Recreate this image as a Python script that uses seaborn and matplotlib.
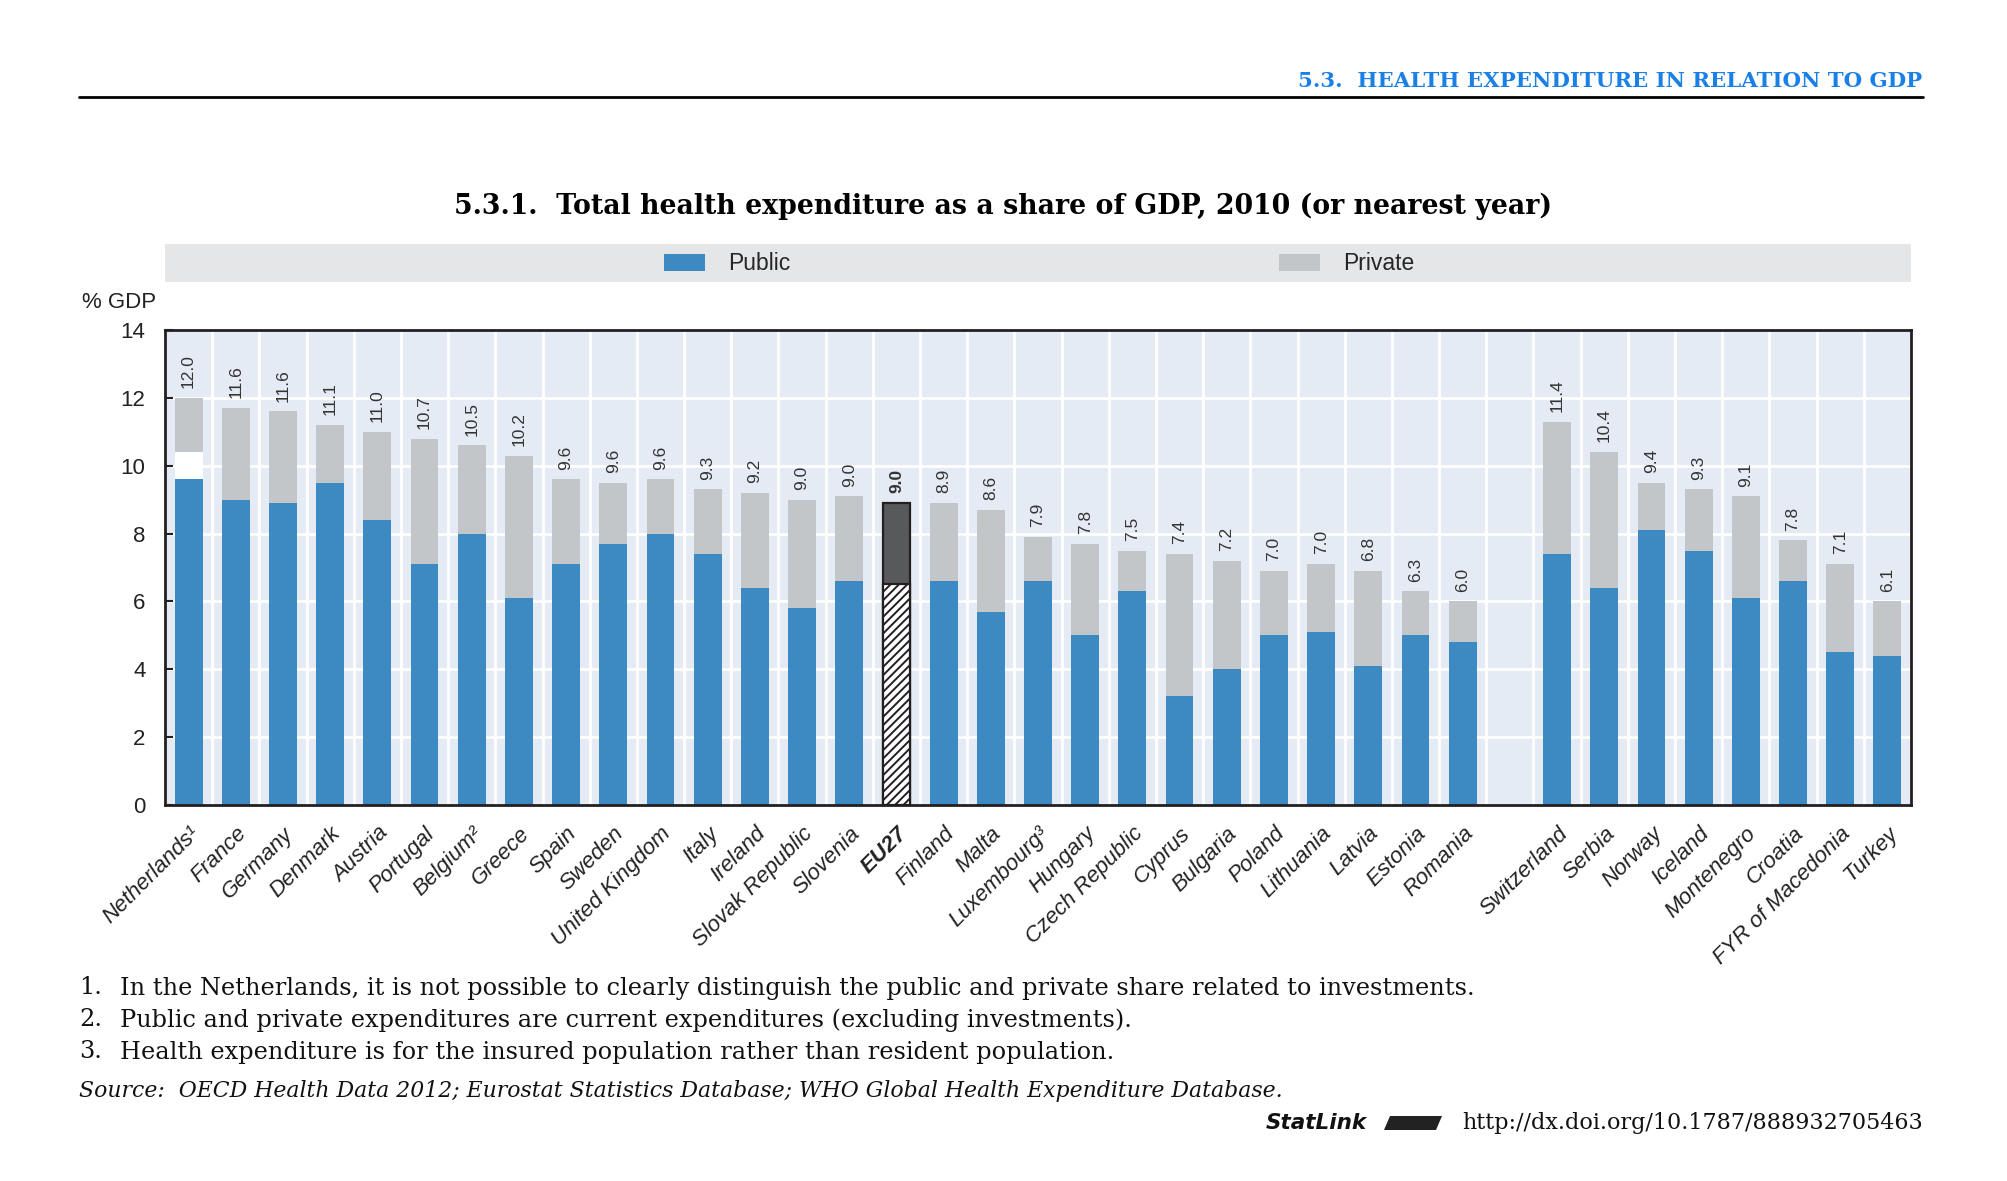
import matplotlib
matplotlib.use("Agg")
import matplotlib.pyplot as plt
import matplotlib.font_manager as fm
from matplotlib.patches import Patch, Rectangle, Polygon
from matplotlib.lines import Line2D
from matplotlib.transforms import ScaledTranslation
import seaborn as sns
import numpy as np
import pandas as pd

# data (% of GDP)
countries = ["Netherlands¹", "France", "Germany", "Denmark", "Austria", "Portugal",
             "Belgium²", "Greece", "Spain", "Sweden", "United Kingdom", "Italy",
             "Ireland", "Slovak Republic", "Slovenia", "EU27", "Finland", "Malta",
             "Luxembourg³", "Hungary", "Czech Republic", "Cyprus", "Bulgaria", "Poland",
             "Lithuania", "Latvia", "Estonia", "Romania",
             "Switzerland", "Serbia", "Norway", "Iceland", "Montenegro", "Croatia",
             "FYR of Macedonia", "Turkey"]
public = [9.6, 9.0, 8.9, 9.5, 8.4, 7.1, 8.0, 6.1, 7.1, 7.7, 8.0, 7.4,
          6.4, 5.8, 6.6, 6.5, 6.6, 5.7, 6.6, 5.0, 6.3, 3.2, 4.0, 5.0,
          5.1, 4.1, 5.0, 4.8,
          7.4, 6.4, 8.1, 7.5, 6.1, 6.6, 4.5, 4.4]
# Netherlands: part that cannot be split between public and private
unallocated = [0.8, 0, 0, 0, 0, 0, 0, 0, 0, 0, 0, 0,
               0, 0, 0, 0, 0, 0, 0, 0, 0, 0, 0, 0,
               0, 0, 0, 0,
               0, 0, 0, 0, 0, 0, 0, 0]
private = [1.6, 2.7, 2.7, 1.7, 2.6, 3.7, 2.6, 4.2, 2.5, 1.8, 1.6, 1.9,
           2.8, 3.2, 2.5, 2.4, 2.3, 3.0, 1.3, 2.7, 1.2, 4.2, 3.2, 1.9,
           2.0, 2.8, 1.3, 1.2,
           3.9, 4.0, 1.4, 1.8, 3.0, 1.2, 2.6, 1.6]
total_labels = ["12.0", "11.6", "11.6", "11.1", "11.0", "10.7", "10.5", "10.2", "9.6",
                "9.6", "9.6", "9.3", "9.2", "9.0", "9.0", "9.0", "8.9", "8.6", "7.9",
                "7.8", "7.5", "7.4", "7.2", "7.0", "7.0", "6.8", "6.3", "6.0",
                "11.4", "10.4", "9.4", "9.3", "9.1", "7.8", "7.1", "6.1"]
n_eu = 28  # first group (EU members + EU27), then a gap slot

BLUE = "#3d89c2"
GREY = "#c3c6c9"
BG = "#e5ebf5"
DARK = "#231f20"
HEAD_BLUE = "#1a80e6"

sns.set_theme(style="white")
names = {f.name for f in fm.fontManager.ttflist}
sans = "Liberation Sans Narrow" if "Liberation Sans Narrow" in names else "Liberation Sans"
serif = "DejaVu Serif"
plt.rcParams["font.family"] = [sans, "DejaVu Sans"]
plt.rcParams["hatch.linewidth"] = 1.4

df = pd.DataFrame({"country": countries, "public": public,
                   "unalloc": unallocated, "private": private})
df["mid"] = df["public"] + df["unalloc"]
df["top"] = df["mid"] + df["private"]

order = countries[:n_eu] + [" "] + countries[n_eu:]

W, H = 2007, 1181
fig = plt.figure(figsize=(W / 100, H / 100), dpi=100)
ax = fig.add_axes([165 / W, 1 - 805 / H, 1746 / W, 475 / H])
ax.set_facecolor(BG)

bw = 0.59
sns.barplot(data=df, x="country", y="top", order=order, color=GREY, width=bw,
            saturation=1, errorbar=None, linewidth=0, ax=ax)
sns.barplot(data=df[df["unalloc"] > 0], x="country", y="mid", order=order, color="white",
            width=bw, saturation=1, errorbar=None, linewidth=0, ax=ax)
sns.barplot(data=df, x="country", y="public", order=order, color=BLUE, width=bw,
            saturation=1, errorbar=None, linewidth=0, ax=ax)

# EU27 average bar styled differently
eu_pos = order.index("EU27")
for p in ax.patches:
    cx = p.get_x() + p.get_width() / 2
    if abs(cx - eu_pos) < 0.01:
        if p.get_height() > 8:
            p.set_facecolor("#58595b")
        else:
            p.set_facecolor("white")
            p.set_hatch("////")
        p.set_edgecolor(DARK)
        p.set_linewidth(1.6)

# value labels above the bars
for _, row in df.iterrows():
    i = order.index(row["country"])
    lab = total_labels[countries.index(row["country"])]
    ax.annotate(lab, (i, row["top"]), xytext=(0, 7), textcoords="offset points",
                rotation=90, ha="center", va="bottom", fontsize=12.5, color="#333333",
                fontweight="bold" if row["country"] == "EU27" else "normal")

ax.set_xlim(-0.5, len(order) - 0.5)
ax.set_ylim(0, 14)
ax.set_yticks(np.arange(0, 15, 2))
ax.set_yticklabels([str(v) for v in range(0, 15, 2)], fontsize=16, color="#222222")
ax.set_xticks(np.arange(len(order)))
ax.set_xticklabels(order, rotation=45, ha="right", rotation_mode="anchor",
                   fontsize=16, style="italic", color="#222222")
offset = ScaledTranslation(7 / 72, 0, fig.dpi_scale_trans)
for lab in ax.get_xticklabels():
    lab.set_transform(lab.get_transform() + offset)
    if lab.get_text() == "EU27":
        lab.set_fontweight("bold")
ax.set_xticks(np.arange(-0.5, len(order), 1), minor=True)
ax.tick_params(axis="x", which="major", length=0, pad=13)
ax.tick_params(axis="x", which="minor", direction="in", length=6, width=1.5, color=DARK)
ax.tick_params(axis="y", which="major", direction="in", length=6, width=1.5, color=DARK,
               pad=14, left=True)
ax.grid(which="minor", axis="x", color="white", linewidth=2)
ax.grid(which="major", axis="y", color="white", linewidth=2)
ax.set_axisbelow(True)
ax.set_xlabel("")
ax.set_ylabel("")
for s in ax.spines.values():
    s.set_visible(True)
    s.set_color(DARK)
    s.set_linewidth(2)

fig.text(156 / W, 1 - 302 / H, "% GDP", ha="right", va="center", fontsize=16,
         color="#222222")

# legend band
fig.patches.append(Rectangle((165 / W, 1 - 282 / H), 1746 / W, 38 / H,
                             transform=fig.transFigure, facecolor="#e5e6e8",
                             edgecolor="none", zorder=0))
handles = [Patch(facecolor=BLUE, edgecolor="none", label="Public"),
           Patch(facecolor=GREY, edgecolor="none", label="Private")]
fig.legend(handles=handles, loc="center", bbox_to_anchor=(1039 / W, 1 - 264 / H),
           ncol=2, frameon=False, fontsize=16.5, handlelength=1.8, handleheight=0.7,
           columnspacing=21.3, handletextpad=1.0)

# header and title
fig.text(1922 / W, 1 - 81 / H, "5.3.  HEALTH EXPENDITURE IN RELATION TO GDP",
         ha="right", va="center", fontsize=15.3, fontweight="bold", color=HEAD_BLUE,
         family=serif)
fig.add_artist(Line2D([79 / W, 1923 / W], [1 - 97 / H, 1 - 97 / H], color="black",
                      linewidth=2))
fig.text(1003 / W, 1 - 206 / H,
         "5.3.1.  Total health expenditure as a share of GDP, 2010 (or nearest year)",
         ha="center", va="center", fontsize=19.3, fontweight="bold", color="black",
         family=serif)

# footnotes
notes = ["In the Netherlands, it is not possible to clearly distinguish the public and private share related to investments.",
         "Public and private expenditures are current expenditures (excluding investments).",
         "Health expenditure is for the insured population rather than resident population."]
for k, (yy, txt) in enumerate(zip([988, 1020, 1052], notes)):
    fig.text(79 / W, 1 - yy / H, f"{k + 1}.", ha="left", va="center", fontsize=17.3,
             family=serif, color="#111111")
    fig.text(120 / W, 1 - yy / H, txt, ha="left", va="center", fontsize=17.3,
             family=serif, color="#111111")
fig.text(79 / W, 1 - 1091 / H,
         "Source:  OECD Health Data 2012; Eurostat Statistics Database; WHO Global Health Expenditure Database.",
         ha="left", va="center", fontsize=15.8, style="italic", family=serif, color="#111111")
fig.text(1923 / W, 1 - 1123 / H, "http://dx.doi.org/10.1787/888932705463",
         ha="right", va="center", fontsize=16, family=serif, color="#111111")
fig.text(1367 / W, 1 - 1123 / H, "StatLink", ha="right", va="center", fontsize=15.5,
         fontweight="bold", style="italic", family="DejaVu Sans", color="#111111")
fig.patches.append(Polygon([(1384 / W, 1 - 1130 / H), (1436 / W, 1 - 1130 / H),
                            (1442 / W, 1 - 1116 / H), (1390 / W, 1 - 1116 / H)],
                           closed=True, transform=fig.transFigure,
                           facecolor="#222222", edgecolor="none"))

fig.savefig("out.png", dpi=100, facecolor="white")
